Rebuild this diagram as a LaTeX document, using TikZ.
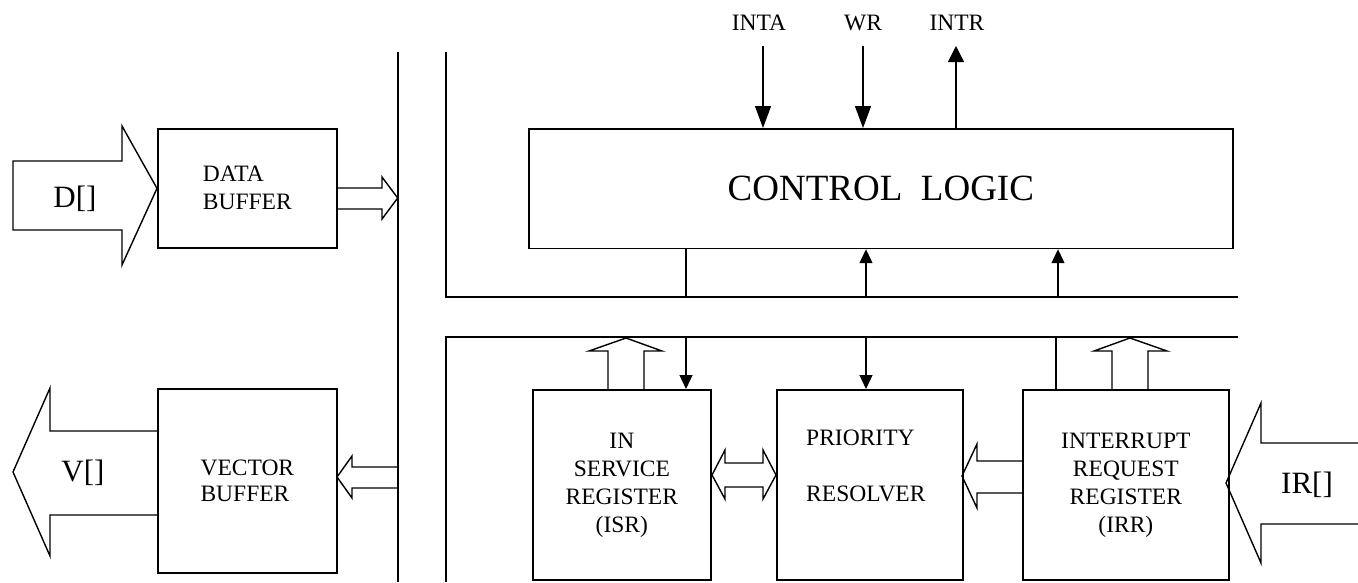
\documentclass[tikz,border=0pt]{standalone}
\usepackage{fontspec}
\setmainfont{Liberation Serif}
\usetikzlibrary{arrows.meta}
\tikzset{
  box/.style={draw, line width=1.7pt, anchor=north west, inner sep=0pt, align=center,
    font=\fontsize{23.5}{28}\selectfont},
  bus/.style={line width=1.7pt},
  wire/.style={line width=1.2pt},
  sigdown/.style={line width=1.2pt, -{Triangle[length=22pt,width=16pt]}},
  sigup/.style={line width=1.2pt, -{Triangle[length=16pt,width=16pt]}},
  small/.style={line width=1.2pt, -{Triangle[length=14pt,width=13pt]}},
  hollow/.style={line width=1.4pt, line join=miter},
  lbl/.style={inner sep=0pt, font=\fontsize{23.5}{28}\selectfont, align=center},
  big/.style={inner sep=0pt, font=\fontsize{31}{36}\selectfont}
}
\begin{document}
\begin{tikzpicture}[x=1pt,y=-1pt]
\useasboundingbox (0,0) rectangle (1358,582);
% buses
\draw[bus] (397.7,52) -- (397.7,582);
\draw[bus] (446,52) |- (1238,297);
\draw[bus] (1238,337) -| (446,582);
% boxes
\node[box, minimum width=179pt, minimum height=119pt, align=left] (db) at (157,128) {DATA\\BUFFER};
\node[box, minimum width=179pt, minimum height=184pt, align=left] (vb) at (157,388) {VECTOR\\[-2pt]BUFFER};
\node[box, minimum width=704pt, minimum height=119.5pt, font=\fontsize{37}{40}\selectfont] (cl) at (528,128) {CONTROL\ \ LOGIC};
\node[box, minimum width=178pt, minimum height=190pt] (isr) at (532,389) {IN\\SERVICE\\REGISTER\\(ISR)};
\node[box, minimum width=186pt, minimum height=190pt] (pr) at (776,389) {};
\node[lbl, align=left] (prt) at ([xshift=-4pt,yshift=19pt]pr.center) {PRIORITY\\[28pt]RESOLVER};
\node[box, minimum width=206pt, minimum height=190pt] (irr) at (1022,389) {INTERRUPT\\REQUEST\\REGISTER\\(IRR)};
% control signals
\node[lbl] (inta) at (759,23) {INTA};
\node[lbl] (wr) at (863,23) {WR};
\node[lbl] (intr) at (957,23) {INTR};
\coordinate (intaS) at (763,46);
\coordinate (wrS) at (863,46);
\coordinate (intrS) at (956,46);
\draw[sigdown] (intaS) -- (intaS |- cl.north);
\draw[sigdown] (wrS) -- (wrS |- cl.north);
\draw[sigup] (intrS |- cl.north) -- (intrS);
% internal bus to control logic
\coordinate (b1) at (686,297);
\coordinate (b2) at (866,297);
\coordinate (b3) at (1058,297);
\draw[wire] (b1) -- (b1 |- cl.south);
\draw[small] (b2) -- (b2 |- cl.south);
\draw[small] (b3) -- (b3 |- cl.south);
% lower bus to registers
\coordinate (c1) at (686,337);
\coordinate (c2) at (866,337);
\coordinate (c3) at (1056,337);
\draw[small] (c1) -- (c1 |- isr.north);
\draw[small] (c2) -- (c2 |- pr.north);
\draw[wire] (c3) -- (c3 |- irr.north);
% hollow arrows
\draw[hollow] (13,161) -- (122,161) -- (122,126) -- (db.west) -- (122,265) -- (122,230) -- (13,230) -- cycle;
\node[big] (dlbl) at (75,199) {D[]};
\draw[hollow] (336,188) -- (382,188) -- (382,177) -- (397.7,198) -- (382,219) -- (382,209) -- (336,209);
\draw[hollow] (157,431) -- (50,431) -- (50,388) -- (13,472) -- (50,556) -- (50,515) -- (157,515);
\node[big] (vlbl) at (83,473) {V[]};
\draw[hollow] (397.7,467) -- (352,467) -- (352,456) -- (337,477) -- (352,498) -- (352,488) -- (397.7,488);
\draw[hollow] (608,389) -- (608,351) -- (589,351) -- (626,338) -- (662,351) -- (644,351) -- (644,389);
\draw[hollow] (712,475) -- (725,450) -- (725,463) -- (763,463) -- (763,450) -- (776,475) -- (763,499) -- (763,487) -- (725,487) -- (725,499) -- cycle;
\draw[hollow] (1022,461) -- (977,461) -- (977,444) -- (962,476) -- (977,508) -- (977,493) -- (1022,493);
\draw[hollow] (1112,389) -- (1112,351) -- (1094,351) -- (1130,338) -- (1167,351) -- (1148,351) -- (1148,389);
\draw[hollow] (1358,443) -- (1261,443) -- (1261,403) -- (1226,483) -- (1261,563) -- (1261,524) -- (1358,524);
\node[big] (irlbl) at (1307,485) {IR[]};
\end{tikzpicture}
\end{document}
